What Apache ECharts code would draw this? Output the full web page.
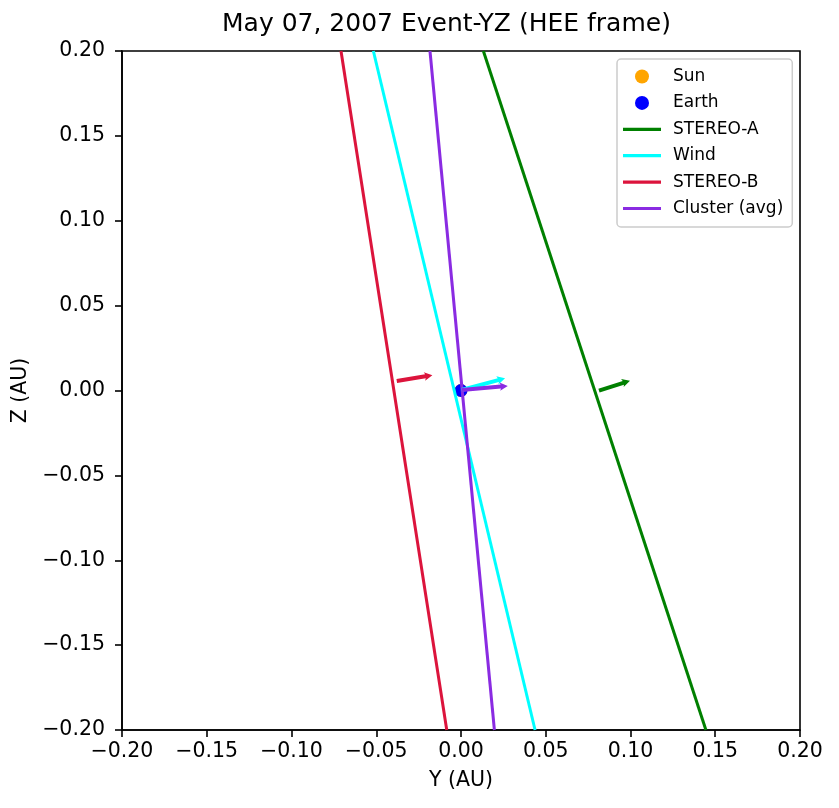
<!DOCTYPE html>
<html>
<head>
<meta charset="utf-8">
<script src="https://cdn.jsdelivr.net/npm/echarts@6/dist/echarts.min.js"></script>
<style>
html,body{margin:0;padding:0;background:#fff;}
#chart{width:839px;height:808px;}
</style>
</head>
<body>
<div id="chart"></div>
<script>
// ---- data ----
const titleText = 'May 07, 2007 Event-YZ (HEE frame)';
const xAxisName = 'Y (AU)';
const yAxisName = 'Z (AU)';
const tickValues = [-0.20, -0.15, -0.10, -0.05, 0.00, 0.05, 0.10, 0.15, 0.20];
const tickLabels = ['\u22120.20', '\u22120.15', '\u22120.10', '\u22120.05', '0.00', '0.05', '0.10', '0.15', '0.20'];

const bodyNames = ['Sun', 'Earth'];
const bodyY = [0.0, 0.0];
const bodyZ = [0.0, 0.0];

const lineNames = ['STEREO-A', 'Wind', 'STEREO-B', 'Cluster (avg)'];
const lineZEnds = [0.2, -0.2];
const lineTopY = [0.0132, -0.0517, -0.0708, -0.0183];    // Y where Z = +0.2
const lineBottomY = [0.1445, 0.0437, -0.0084, 0.0197];   // Y where Z = -0.2

const arrowTailY = [0.0814, 0.0003, -0.0379, 0.0003];
const arrowTailZ = [-0.0001, 0.0003, 0.0056, 0.0003];
const arrowTipY = [0.0997, 0.0260, -0.0169, 0.0276];
const arrowTipZ = [0.0058, 0.0072, 0.0090, 0.0027];

// ---- styles ----
const bodyColors = ['#FFA500', '#0000FF'];
const lineColors = ['#008000', '#00FFFF', '#DC143C', '#8A2BE2'];
const FONT = 'DejaVu Sans';
const LINE_ICON = 'path://M0,0 L38,0 L38,3.2 L0,3.2 Z';

function tickFmt(v) {
  const i = Math.round((v - tickValues[0]) / 0.05);
  return tickLabels[i] !== undefined ? tickLabels[i] : '';
}

const series = [];
bodyNames.forEach((n, i) => {
  series.push({
    name: n, type: 'scatter', symbol: 'circle', symbolSize: 13,
    itemStyle: { color: bodyColors[i], opacity: 1 },
    data: [[bodyY[i], bodyZ[i]]], z: 2
  });
});
lineNames.forEach((n, i) => {
  series.push({
    name: n, type: 'line', symbol: 'none', showSymbol: false,
    lineStyle: { color: lineColors[i], width: 3 },
    itemStyle: { color: lineColors[i] },
    data: [[lineTopY[i], lineZEnds[0]], [lineBottomY[i], lineZEnds[1]]],
    clip: true, z: 3, animation: false
  });
});
const arrowData = arrowTailY.map((t, i) => [t, arrowTailZ[i], arrowTipY[i], arrowTipZ[i], i]);
series.push({
  name: 'arrows', type: 'custom', z: 4,
  encode: { x: [0, 2], y: [1, 3] },
  data: arrowData,
  renderItem: function (params, api) {
    const p0 = api.coord([api.value(0), api.value(1)]);
    const p1 = api.coord([api.value(2), api.value(3)]);
    const idx = api.value(4);
    const dx = p1[0] - p0[0], dy = p1[1] - p0[1];
    const L = Math.sqrt(dx * dx + dy * dy);
    const ux = dx / L, uy = dy / L, nx = -uy, ny = ux;
    const sw = 2.0, hw = 4.2, hl = 8, ha = 7;
    const pt = (a, b) => [p0[0] + ux * a + nx * b, p0[1] + uy * a + ny * b];
    const pts = [pt(0, sw), pt(L - ha, sw), pt(L - hl, hw), pt(L, 0), pt(L - hl, -hw), pt(L - ha, -sw), pt(0, -sw)];
    return { type: 'polygon', shape: { points: pts }, style: { fill: lineColors[idx], stroke: null } };
  }
});

const legendData = bodyNames.map(n => ({ name: n, icon: 'circle' }))
  .concat(lineNames.map(n => ({ name: n, icon: LINE_ICON })));

const chart = echarts.init(document.getElementById('chart'), null, { renderer: 'canvas' });
chart.setOption({
  animation: false,
  backgroundColor: '#ffffff',
  textStyle: { fontFamily: FONT },
  title: {
    text: titleText, left: 222, top: 12, padding: 0,
    textStyle: { fontFamily: FONT, fontSize: 25, fontWeight: 'normal', color: '#000' }
  },
  grid: { left: 122, right: 39, top: 51, bottom: 78, show: true, borderColor: '#000', borderWidth: 1.6, backgroundColor: 'transparent' },
  xAxis: {
    type: 'value', min: -0.2, max: 0.2, interval: 0.05,
    name: xAxisName, nameLocation: 'middle', nameGap: 40,
    nameTextStyle: { fontFamily: FONT, fontSize: 20.5, color: '#000' },
    axisLine: { show: true, onZero: false, lineStyle: { color: '#000', width: 1.6 } },
    axisTick: { show: true, inside: false, length: 7, lineStyle: { color: '#000', width: 1.6 } },
    axisLabel: { formatter: tickFmt, margin: 11, fontFamily: FONT, fontSize: 20.5, color: '#000' },
    splitLine: { show: false }
  },
  yAxis: {
    type: 'value', min: -0.2, max: 0.2, interval: 0.05,
    name: yAxisName, nameLocation: 'middle', nameGap: 88, nameRotate: 90,
    nameTextStyle: { fontFamily: FONT, fontSize: 20.5, color: '#000' },
    axisLine: { show: true, onZero: false, lineStyle: { color: '#000', width: 1.6 } },
    axisTick: { show: true, inside: false, length: 7, lineStyle: { color: '#000', width: 1.6 } },
    axisLabel: { formatter: tickFmt, margin: 17, fontFamily: FONT, fontSize: 20.5, color: '#000' },
    splitLine: { show: false }
  },
  legend: {
    data: legendData,
    orient: 'vertical', left: 617, top: 59,
    padding: [9, 9, 10, 6],
    itemWidth: 38, itemHeight: 14, itemGap: 9.4,
    symbolKeepAspect: true,
    selectedMode: false,
    backgroundColor: 'rgba(255,255,255,0.85)',
    borderColor: '#cccccc', borderWidth: 1.5, borderRadius: 4,
    textStyle: { fontFamily: FONT, fontSize: 17, color: '#000', padding: [0, 0, 0, 7], lineHeight: 14 }
  },
  series: series
});
</script>
</body>
</html>
